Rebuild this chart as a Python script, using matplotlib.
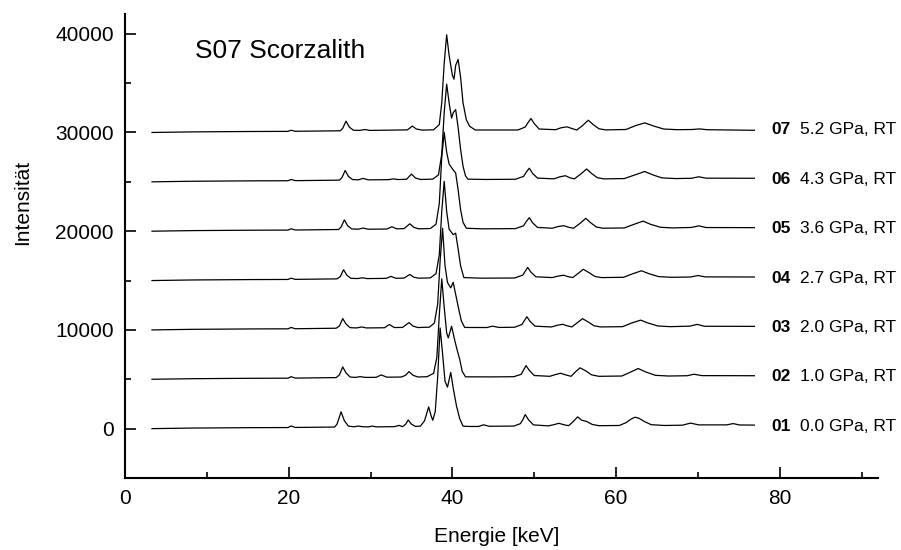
import matplotlib
matplotlib.use("Agg")
import matplotlib.pyplot as plt
from matplotlib.ticker import MultipleLocator

plt.rcParams['font.family'] = ['Liberation Sans', 'DejaVu Sans']

# sample labels, pressures and vertical offsets of the stacked spectra
sample_ids = ["01", "02", "03", "04", "05", "06", "07"]
pressures = ["0.0 GPa, RT", "1.0 GPa, RT", "2.0 GPa, RT", "2.7 GPa, RT",
             "3.6 GPa, RT", "4.3 GPa, RT", "5.2 GPa, RT"]
offsets = [0, 5000, 10000, 15000, 20000, 25000, 30000]

# spectra: energy [keV] and intensity above the offset
e01 = [3.3, 8.3, 15.6, 19.9, 20.3, 20.8, 25.6, 25.9, 26.4, 26.8, 27.3, 28.0, 28.5, 29.1, 29.8, 30.2, 30.7,
       32.9, 33.5, 33.9, 34.3, 34.6, 35.0, 35.5, 36.1, 36.6, 37.1, 37.4, 37.6, 37.9, 38.2, 38.5, 38.8,
       39.1, 39.4, 39.8, 40.1, 40.5, 40.9, 41.3, 42.1, 43.2, 43.8, 44.5, 47.5, 48.3, 48.6, 48.9, 49.3,
       49.9, 51.7, 52.4, 53.0, 53.7, 54.2, 54.8, 55.3, 55.8, 56.4, 57.1, 57.9, 60.4, 61.2, 61.9, 62.3,
       62.8, 63.5, 64.3, 65.9, 68.1, 69.1, 70.1, 73.5, 74.3, 75.1, 76.9]
i01 = [0, 60, 100, 110, 270, 120, 160, 450, 1700, 800, 250, 190, 260, 190, 180, 260, 180,
       200, 330, 200, 450, 880, 450, 220, 260, 800, 2200, 1300, 850, 1700, 5200, 10200, 7600,
       4800, 4200, 5700, 4100, 2300, 1000, 250, 220, 220, 390, 240, 260, 500, 900, 1430, 900,
       380, 280, 400, 540, 380, 300, 750, 1190, 850, 730, 420, 300, 320, 600, 1000, 1160,
       1050, 700, 400, 320, 350, 560, 380, 380, 510, 370, 360]

e02 = [3.3, 8.3, 15.6, 19.9, 20.3, 20.8, 25.8, 26.2, 26.6, 27.0, 27.5, 28.2, 28.7, 29.4, 30.7, 31.3, 32.0,
       33.8, 34.3, 34.7, 35.2, 35.8, 36.9, 37.7, 38.1, 38.4, 38.7, 39.0, 39.3, 39.5, 39.9, 40.3, 40.6,
       40.9, 41.2, 41.6, 44.6, 47.5, 48.4, 48.7, 49.0, 49.4, 50.0, 51.9, 52.6, 53.2, 53.9, 54.5, 55.1,
       55.6, 56.3, 57.0, 57.9, 60.7, 61.7, 62.7, 63.6, 64.8, 66.4, 68.7, 69.5, 70.5, 76.9]
i02 = [0, 60, 100, 110, 260, 120, 170, 450, 1250, 650, 230, 190, 270, 190, 200, 440, 210,
       230, 420, 780, 400, 230, 260, 600, 2200, 6500, 10170, 7300, 4700, 4190, 5370, 3900, 2900,
       2000, 800, 250, 240, 260, 500, 950, 1380, 900, 380, 300, 480, 610, 430, 300, 800,
       1160, 850, 450, 300, 330, 700, 1090, 750, 400, 330, 360, 510, 370, 360]

e03 = [3.3, 8.3, 15.6, 19.9, 20.3, 20.8, 25.8, 26.2, 26.6, 27.0, 27.5, 28.3, 28.9, 29.5, 31.7, 32.3, 32.9,
       33.9, 34.7, 35.2, 35.8, 37.2, 37.8, 38.2, 38.5, 38.8, 39.1, 39.4, 39.8, 40.1, 40.4, 40.8, 41.1,
       41.5, 44.2, 44.9, 45.7, 47.6, 48.5, 48.8, 49.1, 49.5, 50.1, 52.1, 52.8, 53.5, 54.0, 54.6, 55.3,
       55.9, 56.6, 57.3, 58.1, 60.8, 61.9, 63.0, 63.9, 65.1, 66.6, 69.0, 69.9, 70.8, 76.9]
i03 = [0, 60, 100, 110, 250, 120, 170, 400, 1150, 600, 230, 200, 300, 200, 220, 550, 240,
       250, 740, 380, 240, 280, 700, 2600, 7000, 10300, 6500, 4800, 4260, 4820, 3600, 2000, 900,
       250, 240, 380, 250, 270, 550, 950, 1330, 850, 380, 300, 470, 570, 420, 300, 750,
       1140, 800, 420, 300, 330, 700, 990, 700, 400, 330, 380, 560, 370, 360]

e04 = [3.3, 8.3, 15.6, 19.9, 20.3, 20.8, 25.9, 26.3, 26.7, 27.1, 27.6, 28.4, 29.0, 29.6, 31.9, 32.5, 33.1,
       34.1, 34.8, 35.3, 35.9, 37.3, 38.0, 38.4, 38.7, 39.0, 39.3, 39.6, 40.1, 40.4, 40.7, 41.0, 41.4,
       43.6, 47.6, 48.6, 48.9, 49.2, 49.6, 50.2, 52.2, 52.9, 53.6, 54.1, 54.7, 55.4, 56.0, 56.7, 57.4,
       58.2, 60.9, 62.0, 63.1, 64.0, 65.2, 66.7, 69.1, 70.0, 70.9, 76.9]
i04 = [0, 60, 100, 110, 240, 120, 170, 400, 1100, 550, 230, 200, 280, 200, 220, 420, 230,
       250, 620, 330, 240, 270, 700, 2600, 7000, 10050, 7000, 5200, 4650, 4800, 3200, 1500, 300,
       240, 260, 550, 950, 1330, 850, 380, 300, 450, 540, 400, 300, 750, 1140, 800, 420,
       300, 330, 680, 990, 700, 400, 330, 360, 510, 370, 360]

e05 = [3.3, 8.3, 15.6, 19.9, 20.3, 20.8, 26.1, 26.4, 26.8, 27.2, 27.7, 28.5, 29.1, 29.7, 32.0, 32.6, 33.2,
       34.1, 34.8, 35.3, 35.9, 37.3, 38.0, 38.4, 38.7, 39.0, 39.3, 39.6, 40.1, 40.4, 40.7, 41.0, 41.3,
       41.7, 43.6, 47.7, 48.7, 49.0, 49.4, 49.8, 50.4, 52.2, 52.9, 53.6, 54.2, 54.8, 55.6, 56.3, 56.9,
       57.6, 58.4, 61.0, 62.2, 63.3, 64.2, 65.4, 66.9, 69.2, 70.1, 71.0, 76.9]
i05 = [0, 60, 100, 110, 240, 120, 170, 420, 1150, 550, 230, 200, 320, 200, 220, 450, 240,
       260, 750, 380, 240, 270, 700, 2800, 7500, 10020, 8000, 6800, 6200, 5900, 4200, 2200, 900,
       300, 240, 260, 550, 950, 1370, 850, 380, 300, 470, 560, 400, 300, 800, 1300, 850,
       420, 300, 330, 700, 1020, 700, 400, 330, 380, 540, 370, 360]

e06 = [3.3, 8.3, 15.6, 19.9, 20.3, 20.8, 26.2, 26.5, 26.9, 27.3, 27.8, 28.5, 29.1, 29.7, 32.2, 32.8, 33.4,
       34.4, 35.0, 35.5, 36.1, 37.6, 38.3, 38.7, 39.0, 39.3, 39.6, 39.9, 40.1, 40.4, 40.7, 41.0, 41.3,
       41.6, 41.9, 44.1, 47.7, 48.7, 49.0, 49.4, 49.8, 50.4, 52.4, 53.1, 53.8, 54.4, 54.9, 55.7, 56.4,
       57.0, 57.7, 58.5, 61.0, 62.3, 63.5, 64.5, 65.6, 67.3, 69.2, 70.1, 71.0, 76.9]
i06 = [0, 60, 100, 110, 240, 120, 170, 420, 1150, 550, 230, 200, 350, 200, 220, 300, 230,
       260, 780, 380, 240, 270, 700, 2800, 7000, 9900, 8000, 6450, 7000, 7320, 5500, 3300, 1580,
       600, 270, 240, 260, 550, 950, 1380, 850, 380, 300, 500, 620, 400, 300, 800, 1300,
       850, 420, 300, 330, 700, 1050, 700, 400, 330, 360, 510, 370, 360]

e07 = [3.3, 8.3, 15.6, 19.9, 20.3, 20.8, 26.3, 26.6, 27.0, 27.4, 27.9, 28.7, 29.3, 29.9, 34.5, 35.1, 35.6,
       36.3, 37.7, 38.4, 38.7, 39.0, 39.3, 39.6, 40.0, 40.2, 40.4, 40.7, 41.0, 41.3, 41.7, 42.1, 42.8,
       48.0, 48.9, 49.2, 49.6, 50.0, 50.6, 52.6, 53.3, 54.0, 54.6, 55.2, 55.9, 56.6, 57.2, 57.9, 58.7,
       61.2, 62.4, 63.5, 64.6, 65.8, 67.5, 69.3, 70.2, 71.1, 76.9]
i07 = [0, 60, 100, 110, 230, 120, 170, 420, 1150, 550, 230, 210, 300, 210, 260, 650, 350,
       240, 270, 800, 3000, 7000, 9900, 7800, 5800, 5400, 6800, 7400, 5600, 3000, 1300, 630, 250,
       250, 550, 950, 1410, 900, 350, 280, 480, 570, 400, 250, 700, 1240, 800, 380, 260,
       300, 700, 970, 650, 350, 280, 300, 360, 280, 220]

energies = [e01, e02, e03, e04, e05, e06, e07]
intensities = [i01, i02, i03, i04, i05, i06, i07]

fig = plt.figure(figsize=(9.01, 5.5), dpi=100)
ax = fig.add_axes([125 / 901, 72 / 550, 753 / 901, 464 / 550])

for e, inten, off in zip(energies, intensities, offsets):
    ax.plot(e, [v + off for v in inten], color='black', lw=0.9)

# labels on the right of every spectrum
for sid, p, off in zip(sample_ids, pressures, offsets):
    ax.text(79.0, off + 250, sid, fontsize=12.5, fontweight='bold', va='center', ha='left')
    ax.text(82.5, off + 250, p, fontsize=12.5, va='center', ha='left')

ax.text(8.5, 38300, "S07 Scorzalith", fontsize=19, va='center', ha='left')

ax.set_xlim(0, 92)
ax.set_ylim(-5000, 42000)
ax.xaxis.set_major_locator(MultipleLocator(20))
ax.xaxis.set_minor_locator(MultipleLocator(10))
ax.set_yticks([0, 10000, 20000, 30000, 40000])
ax.yaxis.set_minor_locator(MultipleLocator(5000))
ax.tick_params(which='both', direction='in', width=1.2, labelsize=15, pad=8)
ax.tick_params(which='major', length=8)
ax.tick_params(which='minor', length=4.5)

for side in ['top', 'right']:
    ax.spines[side].set_visible(False)
for side in ['left', 'bottom']:
    ax.spines[side].set_linewidth(1.5)

ax.set_xlabel("Energie [keV]", fontsize=15)
ax.set_ylabel("Intensität", fontsize=15)
ax.xaxis.set_label_coords(0.494, -0.106)
ax.yaxis.set_label_coords(-0.1235, 0.593)

fig.savefig("out.png", dpi=100)
